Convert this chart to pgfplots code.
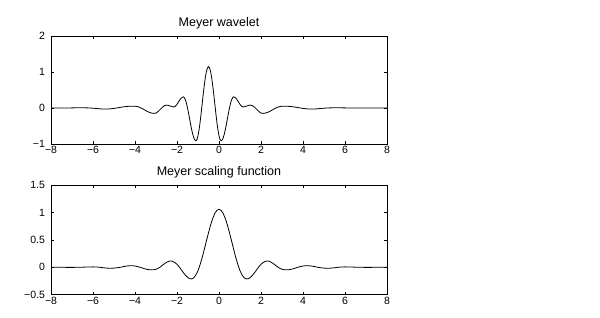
\documentclass[border=0pt]{standalone}
\usepackage{fontspec}
\setmainfont{Liberation Sans}
\usepackage{pgfplots}
\pgfplotsset{compat=1.18}
\usepackage{pgfplotstable}

\pgfplotstableread{
t psi
-8.0 0
-7.5 0
-7.1 0.002
-6.8 0.005
-6.5 0.006
-6.2 0.002
-6.0 -0.006
-5.8 -0.016
-5.6 -0.026
-5.4 -0.030
-5.2 -0.025
-5.0 -0.012
-4.8 0.008
-4.6 0.028
-4.4 0.043
-4.2 0.050
-4.0 0.050
-3.9 0.041
-3.8 0.023
-3.7 -0.004
-3.6 -0.035
-3.5 -0.068
-3.4 -0.099
-3.3 -0.125
-3.2 -0.142
-3.1 -0.150
-3.0 -0.141
-2.9 -0.097
-2.8 -0.040
-2.7 0.019
-2.6 0.064
-2.5 0.080
-2.45 0.078
-2.35 0.061
-2.25 0.039
-2.15 0.030
-2.1 0.038
-2.0 0.100
-1.9 0.194
-1.8 0.277
-1.7 0.310
-1.65 0.289
-1.6 0.228
-1.55 0.131
-1.5 0.005
-1.45 -0.142
-1.4 -0.300
-1.35 -0.458
-1.3 -0.605
-1.25 -0.731
-1.2 -0.828
-1.15 -0.889
-1.1 -0.910
-1.05 -0.875
-1.0 -0.772
-0.95 -0.608
-0.9 -0.395
-0.85 -0.147
-0.8 0.120
-0.75 0.387
-0.7 0.635
-0.65 0.848
-0.6 1.012
-0.55 1.115
-0.5 1.150
-0.45 1.115
-0.4 1.012
-0.35 0.848
-0.3 0.635
-0.25 0.387
-0.2 0.120
-0.15 -0.147
-0.1 -0.395
-0.05 -0.608
0.0 -0.772
0.05 -0.875
0.1 -0.910
0.15 -0.889
0.2 -0.828
0.25 -0.731
0.3 -0.605
0.35 -0.458
0.4 -0.300
0.45 -0.142
0.5 0.005
0.55 0.131
0.6 0.228
0.65 0.289
0.7 0.310
0.8 0.277
0.9 0.194
1.0 0.100
1.1 0.038
1.15 0.030
1.25 0.039
1.35 0.061
1.45 0.078
1.5 0.080
1.6 0.064
1.7 0.019
1.8 -0.040
1.9 -0.097
2.0 -0.141
2.1 -0.150
2.2 -0.142
2.3 -0.125
2.4 -0.099
2.5 -0.068
2.6 -0.035
2.7 -0.004
2.8 0.023
2.9 0.041
3.0 0.050
3.2 0.050
3.4 0.043
3.6 0.028
3.8 0.008
4.0 -0.012
4.2 -0.025
4.4 -0.030
4.6 -0.026
4.8 -0.016
5.0 -0.006
5.2 0.002
5.5 0.006
5.8 0.005
6.1 0.002
6.5 0
7.0 -0.001
8.0 0
}\wavelet

\pgfplotstableread{
t phi
-8.0 0
-7.5 -0.001
-7.0 -0.002
-6.6 0.000
-6.4 0.003
-6.2 0.006
-6.0 0.007
-5.8 0.004
-5.7 0.001
-5.6 -0.004
-5.5 -0.009
-5.4 -0.013
-5.3 -0.016
-5.2 -0.017
-5.1 -0.017
-5.0 -0.015
-4.9 -0.011
-4.8 -0.006
-4.7 0.000
-4.6 0.008
-4.5 0.016
-4.4 0.022
-4.3 0.027
-4.2 0.029
-4.1 0.028
-4.0 0.023
-3.9 0.015
-3.8 0.005
-3.7 -0.007
-3.6 -0.020
-3.5 -0.031
-3.4 -0.040
-3.3 -0.046
-3.2 -0.047
-3.1 -0.045
-3.0 -0.036
-2.9 -0.019
-2.8 0.005
-2.7 0.034
-2.6 0.063
-2.5 0.088
-2.4 0.109
-2.3 0.115
-2.2 0.107
-2.1 0.086
-2.0 0.054
-1.9 0.010
-1.8 -0.042
-1.7 -0.096
-1.6 -0.143
-1.5 -0.182
-1.4 -0.208
-1.3 -0.212
-1.2 -0.192
-1.1 -0.142
-1.0 -0.062
-0.9 0.047
-0.8 0.178
-0.7 0.325
-0.6 0.479
-0.5 0.630
-0.4 0.770
-0.3 0.889
-0.2 0.982
-0.1 1.038
0.0 1.058
0.1 1.038
0.2 0.982
0.3 0.889
0.4 0.770
0.5 0.630
0.6 0.479
0.7 0.325
0.8 0.178
0.9 0.047
1.0 -0.062
1.1 -0.142
1.2 -0.192
1.3 -0.212
1.4 -0.208
1.5 -0.182
1.6 -0.143
1.7 -0.096
1.8 -0.042
1.9 0.010
2.0 0.054
2.1 0.086
2.2 0.107
2.3 0.115
2.4 0.109
2.5 0.088
2.6 0.063
2.7 0.034
2.8 0.005
2.9 -0.019
3.0 -0.036
3.1 -0.045
3.2 -0.047
3.3 -0.046
3.4 -0.040
3.5 -0.031
3.6 -0.020
3.7 -0.007
3.8 0.005
3.9 0.015
4.0 0.023
4.1 0.028
4.2 0.029
4.3 0.027
4.4 0.022
4.5 0.016
4.6 0.008
4.7 0.000
4.8 -0.006
4.9 -0.011
5.0 -0.015
5.1 -0.017
5.2 -0.017
5.3 -0.016
5.4 -0.013
5.5 -0.009
5.6 -0.004
5.7 0.001
5.8 0.004
6.0 0.007
6.2 0.006
6.4 0.003
6.6 0.000
7.0 -0.002
7.5 -0.001
8.0 0
}\scaling

\pgfplotsset{
  meyerstyle/.style={
    scale only axis,
    width=336pt,
    xmin=-8, xmax=8,
    xtick={-8,-6,-4,-2,0,2,4,6,8},
    xticklabels={−8,−6,−4,−2,0,2,4,6,8},
    tick align=inside,
    xtick pos=both, ytick pos=both,
    major tick length=3pt,
    tick style={black, line width=0.5pt},
    axis line style={black, line width=0.6pt},
    ticklabel style={font=\fontsize{10.5}{12}\selectfont},
    xticklabel style={anchor=base, yshift=-10pt},
    yticklabel style={anchor=east, xshift=-2.5pt},
    title style={anchor=base, yshift=3.5pt, font=\fontsize{12.5}{14}\selectfont},
  }
}

\begin{document}
\begin{tikzpicture}
\path[use as bounding box] (0,0) rectangle (600pt,318pt);
\begin{axis}[meyerstyle,
  at={(51pt,174pt)}, anchor=south west,
  height=108pt,
  ymin=-1, ymax=2,
  ytick={-1,0,1,2},
  yticklabels={−1,0,1,2},
  title={Meyer wavelet}]
\addplot[black, line width=0.8pt] table[x=t, y=psi] {\wavelet};
\end{axis}
\begin{axis}[meyerstyle,
  at={(51pt,23.3pt)}, anchor=south west,
  height=109.7pt,
  ymin=-0.5, ymax=1.5,
  ytick={-0.5,0,0.5,1,1.5},
  yticklabels={−0.5,0,0.5,1,1.5},
  title={Meyer scaling function}]
\addplot[black, line width=0.8pt] table[x=t, y=phi] {\scaling};
\end{axis}
\end{tikzpicture}
\end{document}
